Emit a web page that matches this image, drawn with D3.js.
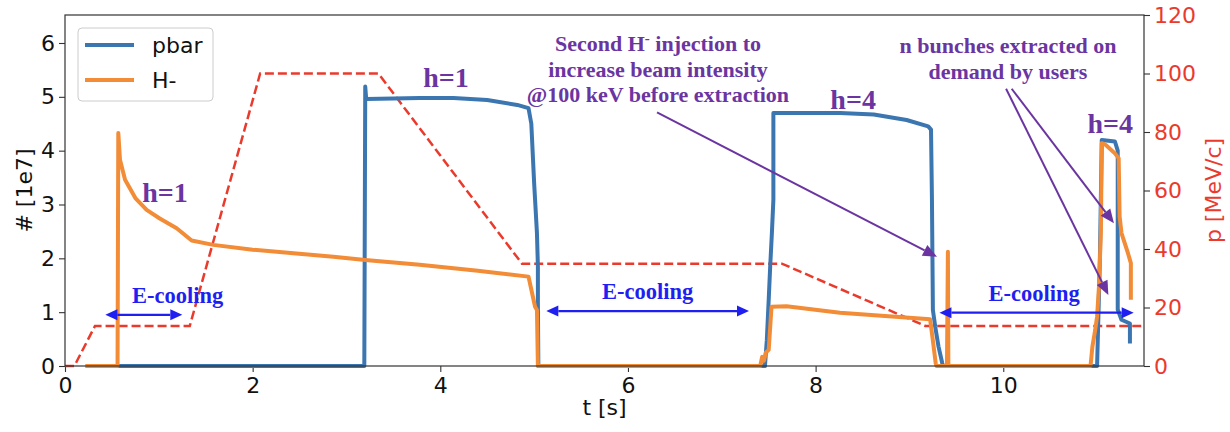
<!DOCTYPE html>
<html>
<head>
  <meta charset="utf-8">
  <title>pbar / H- cycle</title>
  <script src="https://cdn.jsdelivr.net/npm/d3@7"></script>
  <style>
    body { margin: 0; background: #fff; }
  </style>
</head>
<body>
<script>
// beam intensity [1e7], pairs of [t (s), N]
var pbar = [
  [0.22, 0], [3.19, 0], [3.2, 5.19], [3.21, 4.96], [3.5, 4.97], [3.78, 4.98],
  [4.14, 4.98], [4.5, 4.94], [4.82, 4.85], [4.94, 4.79], [4.97, 4.5], [5.0, 3.4],
  [5.01, 3.09], [5.03, 2.47], [5.04, 1.86], [5.04, 1.2], [5.045, 0],
  [7.46, 0], [7.48, 0.48], [7.5, 1.23], [7.516, 1.85], [7.534, 2.47], [7.55, 3.09],
  [7.55, 4.70], [8.26, 4.70], [8.62, 4.67], [8.97, 4.57], [9.2, 4.45], [9.23, 4.39],
  [9.24, 3.09], [9.25, 1.04], [9.275, 0.73], [9.31, 0.36], [9.35, 0.05], [9.36, 0],
  [11.0, 0], [11.03, 2.0], [11.05, 4.2], [11.19, 4.17], [11.22, 4.0], [11.22, 1.05],
  [11.26, 0.86], [11.35, 0.79], [11.35, 0.42]
];
var hminus = [
  [0.22, 0], [0.56, 0], [0.568, 4.33], [0.586, 3.83], [0.64, 3.46], [0.75, 3.12],
  [0.87, 2.90], [1.01, 2.74], [1.19, 2.56], [1.35, 2.33], [1.58, 2.25], [2.0, 2.16],
  [2.86, 2.03], [3.2, 1.97], [3.78, 1.88], [4.4, 1.77], [4.94, 1.66], [5.01, 1.10],
  [5.03, 1.04], [5.04, 0],
  [7.41, 0], [7.43, 0.17], [7.45, 0.1], [7.47, 0.25], [7.5, 0.3], [7.53, 1.10],
  [7.69, 1.11], [8.26, 0.99], [9.22, 0.87], [9.24, 0.61], [9.28, 0.05], [9.29, 0],
  [9.40, 0], [9.41, 2.12], [9.415, 0],
  [10.93, 0], [10.95, 0.36], [10.98, 0.67], [11.0, 0.92], [11.02, 1.47], [11.04, 2.47],
  [11.05, 4.14], [11.09, 4.11], [11.19, 3.95], [11.23, 3.86], [11.24, 2.78],
  [11.26, 2.47], [11.33, 2.09], [11.36, 1.91], [11.36, 1.23]
];
// momentum program [MeV/c]
var momT = [0, 0.1, 0.32, 1.33, 2.08, 3.34, 4.87, 7.64, 9.17, 11.5];
var momP = [0, 0, 13.7, 13.7, 100, 100, 35, 35, 13.7, 13.7];

var xTicks = [0, 2, 4, 6, 8, 10];
var yTicks = [0, 1, 2, 3, 4, 5, 6];
var pTicks = [0, 20, 40, 60, 80, 100, 120];

// electron cooling windows: [t start, t end, N level, t of label]
var coolings = [[0.43, 1.25, 0.95, 1.20], [5.13, 7.29, 1.02, 6.21], [9.32, 11.39, 0.99, 10.33]];
// harmonic labels: [text, t, N]
var harmonics = [["h=1", 1.066, 3.05], ["h=1", 4.06, 5.19], ["h=4", 8.40, 4.77], ["h=4", 11.14, 4.33]];

var width = 1230, height = 432;
var margin = { top: 15, right: 86, bottom: 66, left: 65 };

var svg = d3.select("body").append("svg").attr("width", width).attr("height", height);

var x = d3.scaleLinear().domain([0, 11.5]).range([margin.left, width - margin.right]);
var y = d3.scaleLinear().domain([0, 6.52]).range([height - margin.bottom, margin.top]);
var yp = d3.scaleLinear().domain([0, 120]).range([height - margin.bottom, margin.top]);

var fs = 22;
var sans = "DejaVu Sans";
var serif = "Liberation Serif";
var spine = "#333";
var red = "#ea3a2c";

// axes
var gx = svg.append("g")
  .attr("transform", "translate(0," + (height - margin.bottom) + ")")
  .call(d3.axisBottom(x).tickValues(xTicks).tickFormat(d3.format("d")).tickSize(6).tickPadding(5));
var gy = svg.append("g")
  .attr("transform", "translate(" + margin.left + ",0)")
  .call(d3.axisLeft(y).tickValues(yTicks).tickFormat(d3.format("d")).tickSize(6).tickPadding(4));
var gp = svg.append("g")
  .attr("transform", "translate(" + (width - margin.right) + ",0)")
  .call(d3.axisRight(yp).tickValues(pTicks).tickFormat(d3.format("d")).tickSize(6).tickPadding(4));

[gx, gy, gp].forEach(function(g) {
  g.attr("font-family", null).attr("font-size", null);
  g.select(".domain").remove();
  g.selectAll(".tick line").attr("stroke", spine).attr("stroke-width", 1.1);
  g.selectAll(".tick text")
    .style("font-family", sans).style("font-size", fs + "px")
    .attr("fill", "#111");
});
gp.selectAll(".tick text").attr("fill", red);

// axis labels
function label(sel) {
  return sel.style("font-family", sans).style("font-size", fs + "px");
}
label(svg.append("text"))
  .attr("x", (margin.left + width - margin.right) / 2).attr("y", 415)
  .attr("text-anchor", "middle").attr("fill", "#111")
  .text("t [s]");
label(svg.append("text"))
  .attr("transform", "translate(32," + y(3.26) + ") rotate(-90)")
  .attr("text-anchor", "middle").attr("fill", "#111")
  .text("# [1e7]");
label(svg.append("text"))
  .attr("transform", "translate(1221," + y(3.26) + ") rotate(-90)")
  .attr("text-anchor", "middle").attr("fill", red)
  .text("p [MeV/c]");

// traces
var line = d3.line().x(function(d) { return x(d[0]); }).y(function(d) { return y(d[1]); });
var pline = d3.line().x(function(d) { return x(d); }).y(function(d, i) { return yp(momP[i]); });

svg.append("path")
  .datum(momT)
  .attr("fill", "none").attr("stroke", red).attr("stroke-width", 2.5)
  .attr("stroke-dasharray", "9,4")
  .attr("d", pline);

svg.append("path")
  .datum(pbar)
  .attr("fill", "none").attr("stroke", "#3b76b1").attr("stroke-width", 4)
  .attr("stroke-linejoin", "round")
  .attr("d", line);

svg.append("path")
  .datum(hminus)
  .attr("fill", "none").attr("stroke", "#f28c36").attr("stroke-width", 4)
  .attr("stroke-linejoin", "round")
  .attr("d", line);

// frame
svg.append("rect")
  .attr("x", margin.left).attr("y", margin.top)
  .attr("width", width - margin.left - margin.right)
  .attr("height", height - margin.top - margin.bottom)
  .attr("fill", "none").attr("stroke", spine).attr("stroke-width", 1.2);

// arrow helper: line from (x1,y1) to (x2,y2) with filled head(s)
function arrow(x1, y1, x2, y2, color, len, half, both, lw) {
  var dx = x2 - x1, dy = y2 - y1, L = Math.sqrt(dx * dx + dy * dy);
  var ux = dx / L, uy = dy / L;
  function head(px, py, sx, sy) {
    var bx = px - sx * len, by = py - sy * len;
    svg.append("path")
      .attr("d", "M" + px + "," + py + "L" + (bx - sy * half) + "," + (by + sx * half) +
        "L" + (bx + sy * half) + "," + (by - sx * half) + "Z")
      .attr("fill", color);
  }
  var sx0 = both ? x1 + ux * len : x1, sy0 = both ? y1 + uy * len : y1;
  svg.append("line")
    .attr("x1", sx0).attr("y1", sy0)
    .attr("x2", x2 - ux * len).attr("y2", y2 - uy * len)
    .attr("stroke", color).attr("stroke-width", lw);
  head(x2, y2, ux, uy);
  if (both) head(x1, y1, -ux, -uy);
}

function serifText(size, color) {
  return svg.append("text")
    .style("font-family", serif).style("font-weight", "bold").style("font-size", size + "px")
    .attr("text-anchor", "middle").attr("fill", color);
}

// E-cooling windows
var blue = "#1f1ff2";
coolings.forEach(function(c) {
  arrow(x(c[0]), y(c[2]), x(c[1]), y(c[2]), blue, 12, 5.5, true, 2.2);
  serifText(22.5, blue)
    .attr("x", x(c[3])).attr("y", y(c[2]) - 12)
    .text("E-cooling");
});

// harmonic labels
var purple = "#6b35a1";
harmonics.forEach(function(h) {
  serifText(28, purple)
    .attr("x", x(h[1])).attr("y", y(h[2]))
    .text(h[0]);
});

// annotations
function note(cx, lines, baselines) {
  lines.forEach(function(l, i) {
    var t = serifText(22, purple).attr("x", cx).attr("y", baselines[i]);
    if (Array.isArray(l)) {
      t.append("tspan").text(l[0]);
      t.append("tspan").attr("dy", -8).style("font-size", "15px").text(l[1]);
      t.append("tspan").attr("dy", 8).text(l[2]);
    } else {
      t.text(l);
    }
  });
}
note(x(6.32), [["Second H", "-", " injection to"], "increase beam intensity", "@100 keV before extraction"],
  [51, 76.5, 102]);
note(x(10.05), ["n bunches extracted on", "demand by users"], [53, 78.5]);

arrow(x(6.31), y(4.71), x(9.294), y(2.03), purple, 14, 6, false, 2);
arrow(x(10.03), y(5.15), x(11.12), y(1.32), purple, 14, 6, false, 2);
arrow(x(10.09), y(5.15), x(11.18), y(2.65), purple, 14, 6, false, 2);

// legend
var lg = svg.append("g").attr("transform", "translate(78,28)");
lg.append("rect")
  .attr("width", 135).attr("height", 73).attr("rx", 4)
  .attr("fill", "#fff").attr("fill-opacity", 0.8)
  .attr("stroke", "#ccc").attr("stroke-width", 1);
[["pbar", "#3b76b1", 17], ["H-", "#f28c36", 52]].forEach(function(e) {
  lg.append("line")
    .attr("x1", 7).attr("x2", 56).attr("y1", e[2]).attr("y2", e[2])
    .attr("stroke", e[1]).attr("stroke-width", 4);
  lg.append("text")
    .attr("x", 74).attr("y", e[2] + 8)
    .style("font-family", sans).style("font-size", fs + "px")
    .attr("fill", "#111")
    .text(e[0]);
});
</script>
</body>
</html>
